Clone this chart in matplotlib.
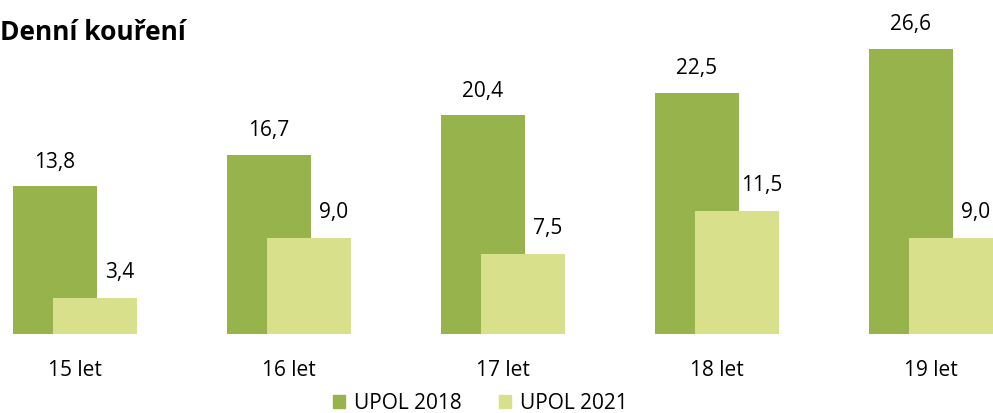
import numpy as np
import matplotlib
matplotlib.use("Agg")
import matplotlib.pyplot as plt
from matplotlib.patches import Patch

# Data
categories = ["15 let", "16 let", "17 let", "18 let", "19 let"]
upol_2018 = [13.8, 16.7, 20.4, 22.5, 26.6]
upol_2021 = [3.4, 9.0, 7.5, 11.5, 9.0]

c2018 = "#97B34C"
c2021 = "#D8E08B"

plt.rcParams['font.family'] = ['Open Sans', 'DejaVu Sans']

fig = plt.figure(figsize=(9.93, 4.14), dpi=100)
ax = fig.add_axes([0, 79 / 414, 1, 335 / 414])

x = np.arange(len(categories))
w = 0.393
off = 0.0935

ax.bar(x - off, upol_2018, width=w, color=c2018, zorder=2)
ax.bar(x + off, upol_2021, width=w, color=c2021, zorder=3)

for xi, v in zip(x, upol_2018):
    ax.annotate(f"{v:.1f}".replace(".", ","), (xi - off, v), xytext=(0, 18),
                textcoords="offset points", ha="center", va="center", fontsize=15)
for xi, v in zip(x, upol_2021):
    ax.annotate(f"{v:.1f}".replace(".", ","), (xi + off, v), xytext=(18, 19),
                textcoords="offset points", ha="center", va="center", fontsize=15)

ax.set_xlim(-0.350, 4.290)
ax.set_ylim(0, 31.25)
ax.set_xticks(x)
ax.set_xticklabels(categories, fontsize=15)
ax.tick_params(axis="x", length=0, pad=18)
ax.set_yticks([])
for s in ax.spines.values():
    s.set_visible(False)

fig.text(0.0, 1 - 32 / 414, "Denní kouření", fontsize=19, fontweight="bold",
         ha="left", va="center")

handles = [Patch(color=c2018, label="UPOL 2018"), Patch(color=c2021, label="UPOL 2021")]
fig.legend(handles=handles, loc="center", bbox_to_anchor=(480 / 993, 10 / 414), ncol=2,
           frameon=False, fontsize=15, handlelength=0.6, handleheight=0.6,
           handletextpad=0.4, columnspacing=1.8)

fig.savefig("out.png", dpi=100)
